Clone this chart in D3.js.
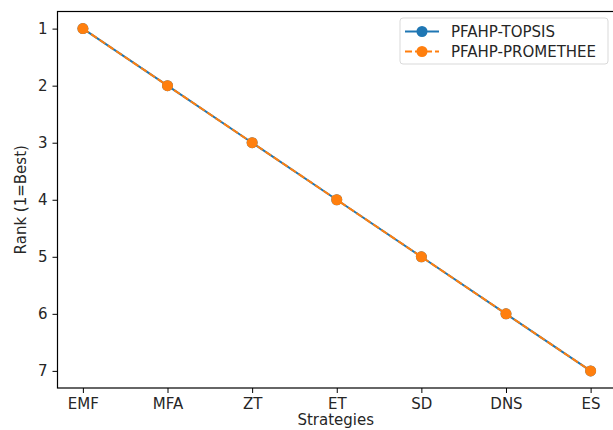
<!DOCTYPE html>
<html>
<head>
<meta charset="utf-8">
<script src="https://d3js.org/d3.v7.min.js"></script>
<style>
  html, body { margin: 0; padding: 0; background: #fff; }
  text { font-family: "DejaVu Sans", sans-serif; fill: #262626; }
</style>
</head>
<body>
<script>
// data
var strategies = ["EMF", "MFA", "ZT", "ET", "SD", "DNS", "ES"];
var topsisRank = [1, 2, 3, 4, 5, 6, 7];
var prometheeRank = [1, 2, 3, 4, 5, 6, 7];
var rankTicks = [1, 2, 3, 4, 5, 6, 7];

var W = 613, H = 430;
var plot = {left: 57.5, top: 11.5, right: 616, bottom: 388};
var fs = 15;

var svg = d3.select("body").append("svg").attr("width", W).attr("height", H);

// matplotlib-style 5% margins
var x = d3.scaleLinear().domain([-0.3, strategies.length - 1 + 0.3]).range([plot.left, plot.right]);
var y = d3.scaleLinear().domain([0.7, 7.3]).range([plot.top, plot.bottom]);

var series = [
  {name: "PFAHP-TOPSIS", values: topsisRank, color: "#1f77b4", dash: null},
  {name: "PFAHP-PROMETHEE", values: prometheeRank, color: "#ff7f0e", dash: "7,3"}
];

var line = d3.line()
  .x(function(d, i) { return x(i); })
  .y(function(d) { return y(d); });

series.forEach(function(s) {
  svg.append("path")
    .attr("d", line(s.values))
    .attr("fill", "none")
    .attr("stroke", s.color)
    .attr("stroke-width", 2)
    .attr("stroke-dasharray", s.dash);
  svg.selectAll(null).data(s.values).enter().append("circle")
    .attr("cx", function(d, i) { return x(i); })
    .attr("cy", function(d) { return y(d); })
    .attr("r", 5.5)
    .attr("fill", s.color);
});

// axes
var xAxis = d3.axisBottom(x).tickValues(d3.range(strategies.length))
  .tickFormat(function(i) { return strategies[i]; }).tickSize(5).tickPadding(5);
var yAxis = d3.axisLeft(y).tickValues(rankTicks).tickFormat(d3.format("d")).tickSize(5).tickPadding(5);

var gx = svg.append("g").attr("transform", "translate(0," + plot.bottom + ")").call(xAxis);
var gy = svg.append("g").attr("transform", "translate(" + plot.left + ",0)").call(yAxis);
[gx, gy].forEach(function(g) {
  g.select(".domain").remove();
  g.selectAll(".tick line").attr("stroke", "#000").attr("stroke-width", 1);
  g.selectAll(".tick text").attr("font-size", fs).attr("font-family", "DejaVu Sans").attr("fill", "#262626");
});

// spines
svg.append("rect")
  .attr("x", plot.left).attr("y", plot.top)
  .attr("width", plot.right - plot.left).attr("height", plot.bottom - plot.top)
  .attr("fill", "none").attr("stroke", "#000").attr("stroke-width", 1.2);

// labels
svg.append("text").attr("x", (plot.left + plot.right) / 2 - 1).attr("y", 425)
  .attr("text-anchor", "middle").attr("font-size", fs).text("Strategies");
svg.append("text").attr("transform", "translate(26," + ((plot.top + plot.bottom) / 2) + ") rotate(-90)")
  .attr("text-anchor", "middle").attr("font-size", fs).text("Rank (1=Best)");

// legend
var lg = svg.append("g").attr("transform", "translate(400,18)");
lg.append("rect").attr("width", 208).attr("height", 46).attr("rx", 3)
  .attr("fill", "#fff").attr("fill-opacity", 0.8).attr("stroke", "#d9d9d9");
series.forEach(function(s, i) {
  var cy = 13.5 + i * 20;
  lg.append("line").attr("x1", 5).attr("x2", 39).attr("y1", cy).attr("y2", cy)
    .attr("stroke", s.color).attr("stroke-width", 2).attr("stroke-dasharray", s.dash ? "7,3" : null);
  lg.append("circle").attr("cx", 22).attr("cy", cy).attr("r", 5.5).attr("fill", s.color);
  lg.append("text").attr("x", 51).attr("y", cy).attr("dy", "0.36em")
    .attr("font-size", fs).text(s.name);
});
</script>
</body>
</html>
